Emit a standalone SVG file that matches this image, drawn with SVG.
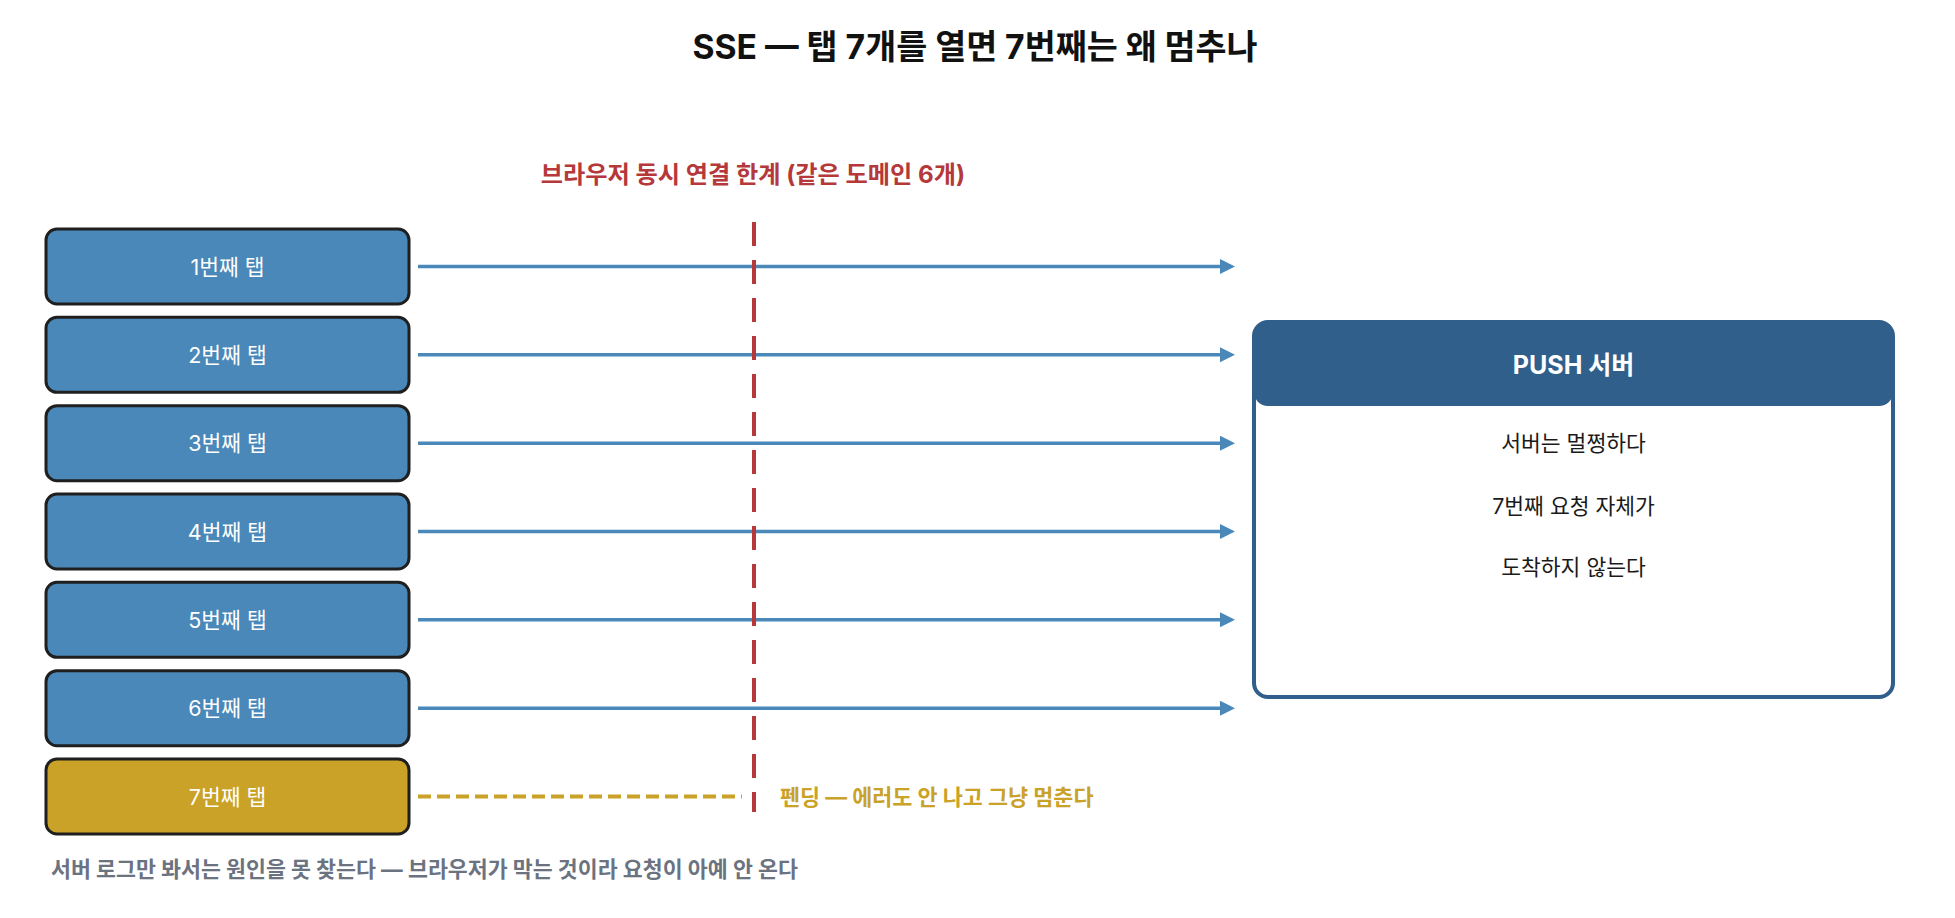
<svg xmlns="http://www.w3.org/2000/svg" width="1955" height="918" viewBox="0 0 1955 918">
<style>
text{font-family:Inter,"Noto Sans CJK KR","Noto Sans",sans-serif}
.tab{fill:#4a88b9;stroke:#1f1f1f;stroke-width:3}
.tab7{fill:#c9a227;stroke:#1f1f1f;stroke-width:3}
.tl{fill:#ffffff;font-size:21.5px;text-anchor:middle;dominant-baseline:central}
.conn{stroke:#4a88b9;stroke-width:3.5;fill:none}
.body{fill:#1a1a1a;font-size:21.5px;text-anchor:middle;dominant-baseline:central}
</style>
<defs>
<marker id="ah" markerUnits="userSpaceOnUse" markerWidth="16" markerHeight="16" refX="1" refY="7.5" orient="auto">
<path d="M0,0 L15,7.5 L0,15 Z" fill="#4a88b9"/>
</marker>
</defs>
<rect width="1955" height="918" fill="#ffffff"/>
<text x="975" y="59" font-size="33.7" font-weight="700" text-anchor="middle" fill="#111111">SSE — 탭 7개를 열면 7번째는 왜 멈추나</text>
<g id="limit-label"><text x="753" y="183" font-size="24.2" font-weight="700" text-anchor="middle" fill="#b5383a">브라우저 동시 연결 한계 (같은 도메인 6개)</text></g>
<g id="connectors">
<line class="conn" x1="418" y1="266.5" x2="1221" y2="266.5" marker-end="url(#ah)"/>
<line class="conn" x1="418" y1="354.8" x2="1221" y2="354.8" marker-end="url(#ah)"/>
<line class="conn" x1="418" y1="443.2" x2="1221" y2="443.2" marker-end="url(#ah)"/>
<line class="conn" x1="418" y1="531.5" x2="1221" y2="531.5" marker-end="url(#ah)"/>
<line class="conn" x1="418" y1="619.8" x2="1221" y2="619.8" marker-end="url(#ah)"/>
<line class="conn" x1="418" y1="708.2" x2="1221" y2="708.2" marker-end="url(#ah)"/>
<line x1="418" y1="796.5" x2="742" y2="796.5" stroke="#c9a227" stroke-width="4" stroke-dasharray="13 6"/>
</g>
<g id="limit-line"><line x1="754" y1="222" x2="754" y2="812" stroke="#b5383a" stroke-width="4" stroke-dasharray="24 14"/></g>
<g id="tab1"><rect class="tab" x="46" y="229" width="363" height="75" rx="11"/><text class="tl" x="227.5" y="266.5">1번째 탭</text></g>
<g id="tab2"><rect class="tab" x="46" y="317.3" width="363" height="75" rx="11"/><text class="tl" x="227.5" y="354.8">2번째 탭</text></g>
<g id="tab3"><rect class="tab" x="46" y="405.7" width="363" height="75" rx="11"/><text class="tl" x="227.5" y="443.2">3번째 탭</text></g>
<g id="tab4"><rect class="tab" x="46" y="494" width="363" height="75" rx="11"/><text class="tl" x="227.5" y="531.5">4번째 탭</text></g>
<g id="tab5"><rect class="tab" x="46" y="582.3" width="363" height="75" rx="11"/><text class="tl" x="227.5" y="619.8">5번째 탭</text></g>
<g id="tab6"><rect class="tab" x="46" y="670.7" width="363" height="75" rx="11"/><text class="tl" x="227.5" y="708.2">6번째 탭</text></g>
<g id="tab7"><rect class="tab7" x="46" y="759" width="363" height="75" rx="11"/><text class="tl" x="227.5" y="796.5">7번째 탭</text></g>
<g id="pending"><text x="780" y="797" font-size="21.8" font-weight="700" fill="#c9a227" dominant-baseline="central">펜딩 — 에러도 안 나고 그냥 멈춘다</text></g>
<g id="push-server">
<rect x="1254" y="322" width="639" height="375" rx="14" fill="#ffffff" stroke="#2f5f8a" stroke-width="4"/>
<rect x="1254" y="322" width="639" height="84" rx="14" fill="#2f5f8a"/>
<text x="1573.5" y="365" font-size="25" font-weight="700" fill="#ffffff" text-anchor="middle" dominant-baseline="central">PUSH 서버</text>
<text class="body" x="1573.5" y="443">서버는 멀쩡하다</text>
<text class="body" x="1573.5" y="506">7번째 요청 자체가</text>
<text class="body" x="1573.5" y="567">도착하지 않는다</text>
</g>
<g id="footnote"><text x="51" y="869" font-size="21.7" font-weight="700" fill="#6b7280" dominant-baseline="central">서버 로그만 봐서는 원인을 못 찾는다 — 브라우저가 막는 것이라 요청이 아예 안 온다</text></g>
</svg>
